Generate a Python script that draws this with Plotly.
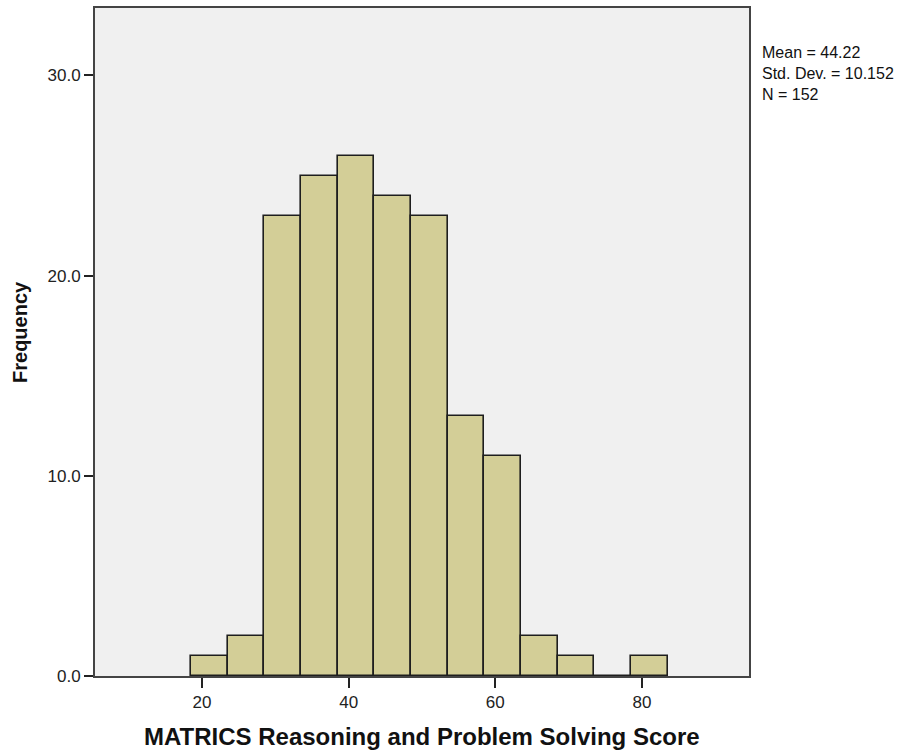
import plotly.graph_objects as go

# Histogram bins (lower edge) and counts
bin_lower = [18.5, 23.5, 28.5, 33.5, 38.5, 43.5, 48.5, 53.5, 58.5, 63.5, 68.5, 73.5, 78.5]
bin_width = 5.0
counts = [1, 2, 23, 25, 26, 24, 23, 13, 11, 2, 1, 0, 1]

x_ticks = [20, 40, 60, 80]
y_ticks = [0, 10, 20, 30]
stats_lines = ["Mean = 44.22", "Std. Dev. = 10.152", "N = 152"]

x_title = "MATRICS Reasoning and Problem Solving Score"
y_title = "Frequency"

centers = [b + bin_width / 2 for b in bin_lower]

FONT = "Liberation Sans, Arial, sans-serif"

fig = go.Figure()
fig.add_trace(go.Bar(
    x=centers, y=counts, width=[bin_width] * len(centers),
    marker=dict(color="#D3CE97", line=dict(color="#1e1e1e", width=1.6)),
    showlegend=False, hoverinfo="x+y",
))

fig.update_layout(
    width=908, height=754,
    margin=dict(l=95, r=159, t=6, b=78),
    paper_bgcolor="white",
    plot_bgcolor="#F0F0F0",
    font=dict(family=FONT, color="#222"),
    bargap=0,
)

fig.update_xaxes(
    range=[5.4, 94.6], tickvals=x_ticks, ticks="outside", ticklen=10,
    tickwidth=2, tickcolor="#222", tickfont=dict(size=17, color="#222"),
    showline=True, linecolor="#444", linewidth=2, mirror=True,
    showgrid=False, zeroline=False,
)
fig.update_yaxes(
    range=[0, 33.37], tickvals=y_ticks, tickformat=".1f", ticks="outside",
    ticklen=9, tickwidth=2, tickcolor="#222", tickfont=dict(size=17, color="#222"),
    showline=True, linecolor="#444", linewidth=2, mirror=True,
    showgrid=False, zeroline=False,
)

annotations = [
    dict(text=x_title, xref="paper", yref="paper", x=0.5, y=-0.091,
         xanchor="center", yanchor="middle", showarrow=False,
         font=dict(size=24, family=FONT, color="#111", weight="bold")),
    dict(text=y_title, xref="paper", yref="paper", x=-0.1147, y=0.515,
         xanchor="center", yanchor="middle", textangle=-90, showarrow=False,
         font=dict(size=20, family=FONT, color="#111", weight="bold")),
    dict(text="<br>".join(stats_lines), xref="paper", yref="paper",
         x=(760 - 95) / 654, y=(676 - 40) / 670, xanchor="left", yanchor="top",
         align="left", showarrow=False,
         font=dict(size=16, family=FONT, color="#111")),
]
fig.update_layout(annotations=annotations)

fig.write_html("out.html")
